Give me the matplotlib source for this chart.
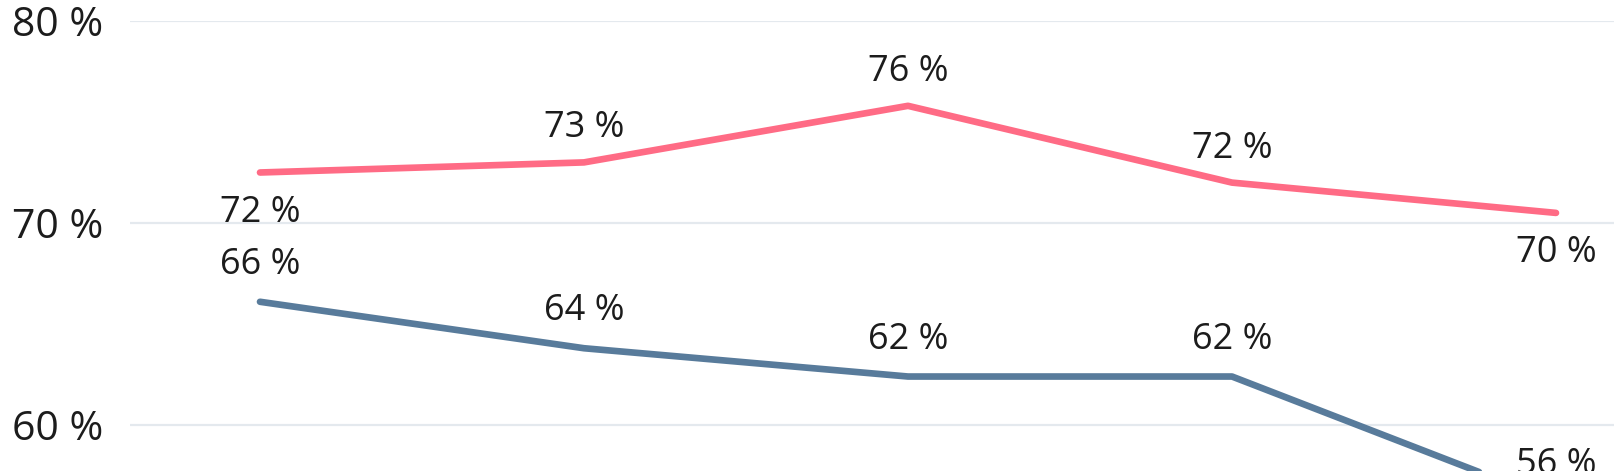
import matplotlib
matplotlib.use("Agg")
import matplotlib.pyplot as plt

plt.rcParams['font.family'] = ['Open Sans', 'DejaVu Sans']

categories = ["1", "2", "3", "4", "5"]
pink_values = [72.5, 73.0, 75.8, 72.0, 70.5]
blue_values = [66.1, 63.8, 62.4, 62.4, 56.2]
pink_labels = ["72 %", "73 %", "76 %", "72 %", "70 %"]
blue_labels = ["66 %", "64 %", "62 %", "62 %", "56 %"]
pink_label_below = [True, False, False, False, True]
y_ticks = [60, 70, 80]
y_tick_labels = ["60 %", "70 %", "80 %"]

W, H = 1614, 471
fig = plt.figure(figsize=(W / 100, H / 100), dpi=100)
px_per_unit = 20.2
ylo, yhi = 50, 80
ax_h = (yhi - ylo) * px_per_unit
top_px = 21
left_px = 130
ax = fig.add_axes([left_px / W, (H - top_px - ax_h) / H, (W - left_px) / W, ax_h / H])

x = list(range(len(categories)))
pink_c = "#FF6B85"
blue_c = "#587B9B"
ax.plot(x, pink_values, color=pink_c, lw=4.8, solid_capstyle='round', solid_joinstyle='round', zorder=3)
ax.plot(x, blue_values, color=blue_c, lw=4.8, solid_capstyle='round', solid_joinstyle='round', zorder=3)

step = 324
ax.set_xlim(-(260 - left_px) / step, (W - 260) / step)
ax.set_ylim(ylo, yhi)

txt_c = "#1c1c1c"
for xi, v, lab, below in zip(x, pink_values, pink_labels, pink_label_below):
    off = -40 if below else 34
    ax.annotate(lab, (xi, v), xytext=(0, off * 0.72), textcoords='offset points',
                ha='center', va='center', fontsize=26, color=txt_c, annotation_clip=False)
for xi, v, lab in zip(x, blue_values, blue_labels):
    ax.annotate(lab, (xi, v), xytext=(0, 37 * 0.72), textcoords='offset points',
                ha='center', va='center', fontsize=26, color=txt_c, annotation_clip=False)

ax.set_yticks(y_ticks)
ax.set_yticklabels(y_tick_labels, fontsize=29.5, color=txt_c)
ax.set_xticks([])
ax.tick_params(axis='y', length=0, pad=19)
ax.grid(axis='y', color="#E4E9EE", lw=1.6)
ax.set_axisbelow(True)
for s in ax.spines.values():
    s.set_visible(False)

fig.savefig("out.png", dpi=100)
